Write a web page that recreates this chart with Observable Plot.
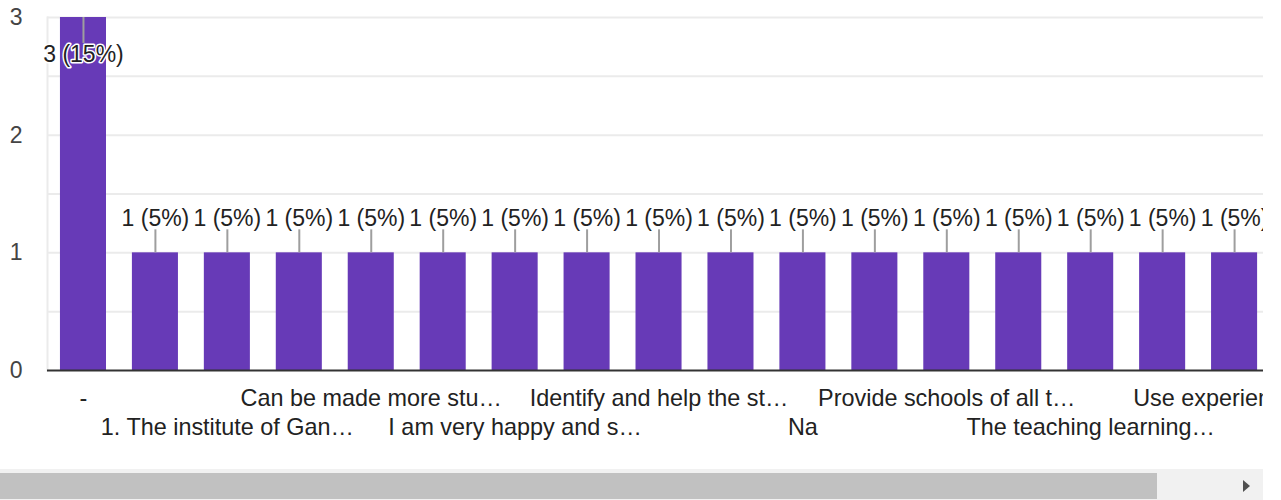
<!DOCTYPE html>
<html>
<head>
<meta charset="utf-8">
<script src="https://cdn.jsdelivr.net/npm/d3@7"></script>
<script src="https://cdn.jsdelivr.net/npm/@observablehq/plot@0.6"></script>
<style>
  html, body { margin: 0; padding: 0; background: #fff; }
  #wrap { position: relative; width: 1263px; height: 500px; overflow: hidden; }
  #chart { position: absolute; left: 0; top: 0; width: 1263px; height: 469px; overflow: hidden; }
  #chart svg { max-width: none !important; width: 1379px; height: 469px; }
  #track { position: absolute; left: 0; top: 469px; width: 1263px; height: 31px; background: #f1f1f1; }
  #thumb { position: absolute; left: 0; top: 4px; width: 1157px; height: 26px; background: #c1c1c1; }
  #arrow { position: absolute; left: 1243px; top: 11px; width: 0; height: 0;
           border-top: 6px solid transparent; border-bottom: 6px solid transparent; border-left: 7px solid #505050; }
</style>
</head>
<body>
<div id="wrap">
  <div id="chart"></div>
  <div id="track"><div id="thumb"></div><div id="arrow"></div></div>
</div>
<script>
// Categories (responses), in chart order; "" = label not shown on the axis
const labels = [
  "-", "",
  "1. The institute of Gan…", "",
  "Can be made more stu…", "",
  "I am very happy and s…", "",
  "Identify and help the st…", "",
  "Na", "",
  "Provide schools of all t…", "",
  "The teaching learning…", "",
  "Use experiential l…", ""
];
const counts = [3, 1, 1, 1, 1, 1, 1, 1, 1, 1, 1, 1, 1, 1, 1, 1, 1, 1];
const percents = [15, 5, 5, 5, 5, 5, 5, 5, 5, 5, 5, 5, 5, 5, 5, 5, 5, 5];
const yTicks = [0, 1, 2, 3];
const yGrid = [0.5, 1, 1.5, 2, 2.5, 3];
const row1Ticks = [0, 4, 8, 12, 16];
const row2Ticks = [2, 6, 10, 14];

const data = counts.map((c, i) => ({i, count: c, label: `${c} (${percents[i]}%)`}));
const maxCount = d3.max(counts);
const FONT = "'Liberation Sans', Arial, sans-serif";

const chart = Plot.plot({
  width: 1379,
  height: 469,
  marginLeft: 47,
  marginRight: 37,
  marginTop: 17,
  marginBottom: 99,
  style: {fontFamily: FONT, fontSize: "23px", background: "white", overflow: "visible"},
  x: {type: "band", domain: d3.range(counts.length), paddingInner: 0.36, paddingOuter: 0.18, round: false, axis: null, label: null},
  y: {domain: [0, 3], axis: null, label: null},
  marks: [
    Plot.gridY(yGrid, {stroke: "#ebebeb", strokeOpacity: 1, strokeWidth: 2}),
    Plot.frame({anchor: "left", stroke: "#ebebeb", strokeWidth: 2}),
    Plot.barY(data, {x: "i", y: "count", fill: "#673ab7"}),
    Plot.ruleY([0], {stroke: "#333", strokeWidth: 2}),
    Plot.axisY({ticks: yTicks, tickFormat: d => String(d), label: null, tickSize: 0, tickPadding: 25, fill: "#444", fontSize: 23, textAnchor: "end"}),
    Plot.axisX({ticks: row1Ticks, label: null, tickSize: 0, tickPadding: 19, tickFormat: i => labels[i], fill: "#222", fontSize: 23.4}),
    Plot.axisX({ticks: row2Ticks, label: null, tickSize: 0, tickPadding: 48, tickFormat: i => labels[i], fill: "#222", fontSize: 23.4}),
    // leader lines
    Plot.ruleX(data.filter(d => d.count < maxCount), {x: "i", y1: "count", y2: "count", insetTop: -23, stroke: "#9e9e9e", strokeWidth: 2}),
    Plot.ruleX(data.filter(d => d.count === maxCount), {x: "i", y1: "count", y2: "count", insetBottom: -26, stroke: "#9e9e9e", strokeWidth: 2}),
    // value labels
    Plot.text(data.filter(d => d.count < maxCount), {x: "i", y: "count", text: "label", dy: -34, fill: "#222", stroke: "white", strokeWidth: 3, paintOrder: "stroke", fontSize: 23}),
    Plot.text(data.filter(d => d.count === maxCount), {x: "i", y: "count", text: "label", dy: 37, fill: "#222", stroke: "white", strokeWidth: 3, paintOrder: "stroke", fontSize: 23})
  ]
});
document.getElementById("chart").appendChild(chart);
</script>
</body>
</html>
